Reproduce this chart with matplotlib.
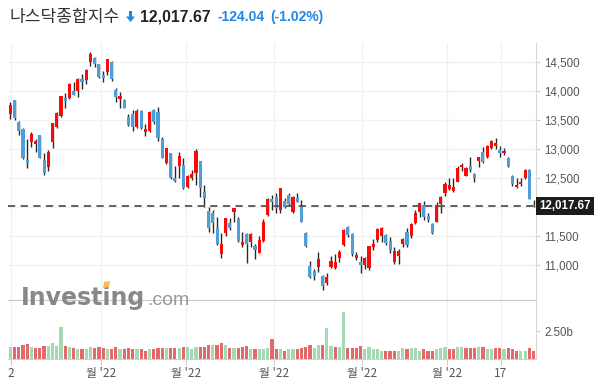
import matplotlib
matplotlib.use('Agg')
import numpy as np
import matplotlib.pyplot as plt
from matplotlib.patches import Polygon

# daily candles (index points)
opens = [13603, 13844, 13471, 13344, 12809, 13125, 13091, 13241, 12809, 12694,
         13125, 13384, 13574, 13884, 13873, 13999, 13999, 14213, 14195, 14506,
         14563, 14465, 14276, 14322, 14506, 14017, 13868, 13844, 13557, 13603,
         13384, 13655, 13299, 13310, 13672, 13638, 13172, 12753, 12931, 12506,
         12713, 12724, 12339, 12506, 12580, 12793, 12259, 11931, 11902, 11644,
         11195, 11557, 11730, 11908, 11800, 11351, 11535, 11391, 11333, 11213,
         11408, 11868, 12138, 12172, 11948, 12098, 12204, 11920, 12149, 12017,
         11557, 10988, 10897, 10971, 10817, 10695, 10971, 10943, 11126, 11345,
         11655, 11529, 11126, 11052, 11000, 10954, 11316, 11425, 11500, 11517,
         11414, 11058, 11149, 11362, 11563, 11506, 11724, 11920, 12034, 11839,
         11701, 11747, 12046, 12247, 12310, 12282, 12437, 12684, 12540, 12707,
         12575, 12799, 12947, 12868, 13011, 13057, 12983, 12925, 12845, 12534,
         12339, 12391, 12506, 12638, 12040]
highs = [13804, 13844, 13482, 13355, 13166, 13298, 13172, 13241, 12924, 12976,
         13442, 13643, 13913, 13959, 14132, 14161, 14218, 14287, 14379, 14678,
         14592, 14465, 14345, 14552, 14517, 14057, 13988, 13862, 13598, 13672,
         13690, 13667, 13431, 13655, 13684, 13730, 13213, 13023, 12931, 12707,
         12943, 12850, 12552, 12638, 12999, 12793, 12379, 12006, 11948, 11833,
         11546, 11816, 11805, 11988, 11822, 11563, 11557, 11557, 11362, 11506,
         11793, 12149, 12207, 12236, 12333, 12149, 12236, 12195, 12236, 12121,
         11575, 11069, 10931, 11230, 10828, 10856, 11155, 11190, 11253, 11621,
         11672, 11546, 11230, 11155, 11144, 11333, 11448, 11644, 11661, 11529,
         11483, 11316, 11276, 11471, 11632, 11718, 11943, 12075, 12103, 11891,
         11718, 12080, 12190, 12437, 12494, 12506, 12713, 12753, 12695, 12856,
         12591, 12868, 13034, 13069, 13155, 13184, 13057, 13011, 12856, 12552,
         12494, 12506, 12649, 12649, 12121]
lows = [13517, 13499, 13241, 12826, 12677, 13039, 12953, 12838, 12550, 12619,
        13010, 13367, 13546, 13700, 13856, 13931, 13902, 14029, 14115, 14437,
        14419, 14230, 14149, 14276, 14172, 13804, 13700, 13700, 13402, 13310,
        13367, 13345, 13230, 13287, 13437, 13144, 12838, 12736, 12483, 12437,
        12494, 12310, 12322, 12471, 12379, 12178, 11994, 11575, 11546, 11345,
        11115, 11506, 11603, 11747, 11391, 11316, 11029, 11316, 11103, 11207,
        11402, 11851, 11948, 11902, 11902, 11977, 12034, 11891, 12080, 11747,
        11316, 10770, 10741, 10885, 10569, 10655, 10954, 10931, 11046, 11333,
        11488, 11161, 11086, 10856, 10931, 10908, 11259, 11402, 11402, 11345,
        11201, 11023, 11011, 11305, 11316, 11471, 11707, 11822, 11776, 11747,
        11529, 11736, 11891, 12195, 12293, 12264, 12425, 12619, 12534, 12609,
        12437, 12695, 12765, 12839, 12999, 12999, 12868, 12897, 12684, 12362,
        12333, 12368, 12477, 12138, 11995]
closes = [13758, 13528, 13315, 12838, 12763, 13258, 13137, 12849, 12591, 12947,
          13442, 13620, 13913, 13827, 14120, 13931, 14207, 14161, 14362, 14632,
          14460, 14236, 14230, 14546, 14207, 13902, 13913, 13712, 13414, 13379,
          13655, 13356, 13345, 13632, 13460, 13184, 12849, 13010, 12494, 12454,
          12879, 12333, 12534, 12569, 12965, 12322, 12149, 11632, 11730, 11362,
          11356, 11805, 11644, 11983, 11420, 11397, 11356, 11535, 11264, 11425,
          11741, 12138, 12080, 11988, 12322, 12000, 12057, 12172, 12092, 11747,
          11328, 10799, 10817, 11098, 10644, 10793, 11069, 11046, 11218, 11603,
          11517, 11184, 11172, 11000, 11115, 11322, 11362, 11626, 11638, 11374,
          11259, 11241, 11247, 11443, 11345, 11707, 11897, 12063, 11833, 11782,
          11557, 12034, 12172, 12391, 12374, 12351, 12678, 12724, 12667, 12638,
          12494, 12862, 12782, 13046, 13144, 13103, 12937, 12965, 12713, 12391,
          12379, 12437, 12632, 12141.71, 12017.67]
# volume in billions
volumes = [1.04, 1.04, 1.04, 1.25, 1.34, 1.04, 0.95, 0.95, 1.16, 1.16,
           1.40, 1.16, 2.83, 1.16, 1.04, 0.95, 0.86, 0.86, 0.86, 1.04,
           0.95, 1.04, 0.95, 0.86, 0.86, 1.04, 0.86, 0.86, 0.95, 0.86,
           0.86, 0.86, 0.74, 0.86, 0.86, 0.95, 0.95, 0.95, 0.95, 0.95,
           0.95, 1.04, 1.04, 0.86, 1.04, 1.04, 1.04, 1.25, 1.25, 1.25,
           1.40, 1.25, 0.95, 0.95, 0.95, 1.04, 1.16, 0.86, 0.86, 0.86,
           0.86, 0.95, 1.76, 0.86, 0.86, 0.74, 0.86, 0.86, 0.86,
           0.95, 1.04, 1.25, 0.95, 1.25, 1.25, 2.74, 1.16, 1.04, 1.04,
           4.23, 0.95, 0.95, 0.95, 1.16, 0.86, 1.04, 0.86, 0.86, 0.74,
           0.74, 0.74, 0.74, 0.74, 0.95, 0.86, 0.95, 0.95, 0.74, 0.86,
           0.74, 0.74, 0.86, 0.95, 1.04, 0.86, 0.86, 1.04, 1.04, 0.95,
           0.95, 0.95, 1.04, 1.04, 0.86, 0.86, 0.95, 0.95, 0.86, 0.95,
           0.86, 0.74, 0.74, 0.74, 0.95, 0.74]

month_pos = [0.1, 21.4, 41.6, 62.6, 83.4, 103.6, 116.2]
month_labels = ["2", "월 '22", "월 '22", "월 '22", "월 '22", "월 '22", "17"]
price_ticks = [11000, 11500, 12000, 12500, 13000, 13500, 14000, 14500]

last_price = closes[-1]
title_name = '나스닥종합지수'
title_price = '12,017.67'
title_chg = '-124.04'
title_pct = '(-1.02%)'

W, H = 602, 386


def fx(px):
    return px / W


def fy(py):
    return 1 - py / H


fig = plt.figure(figsize=(W / 100, H / 100), dpi=100)
ax = fig.add_axes([fx(8), fy(300), fx(536) - fx(8), fy(43) - fy(300)])
axv = fig.add_axes([fx(8), fy(359), fx(536) - fx(8), fy(301) - fy(359)], sharex=ax)

o = np.array(opens, float)
c = np.array(closes, float)
idx = np.arange(len(c))
body_col = np.where(c >= o, '#fb0a0a', '#4d9fda')

# candles
ax.vlines(idx, lows, highs, color='#2a2a2a', lw=1, zorder=2)
ax.bar(idx, np.maximum(np.abs(c - o), 12), bottom=np.minimum(o, c), width=0.74,
       color=body_col, lw=0, zorder=3)
ax.axhline(last_price, color='#555555', lw=1.3, ls=(0, (4, 3)), zorder=4)

ax.set_xlim(-0.55, 124.58)
ax.set_ylim(10397, 14828)
ax.set_yticks(price_ticks)
# the 12,000 label sits under the last-price box
ax.set_yticklabels(['' if v == 12000 else f'{v:,}' for v in price_ticks])
ax.set_xticks(month_pos)
ax.yaxis.tick_right()
ax.grid(color='#f1f1f1', lw=1)
ax.set_axisbelow(True)
ax.tick_params(axis='y', length=3, color='#cccccc', labelsize=8.3,
               labelcolor='#555555', pad=3)
ax.tick_params(axis='x', length=0, labelbottom=False)
for t in ax.get_yticklabels():
    t.set_family('Liberation Sans')
for s in ['top', 'left']:
    ax.spines[s].set_visible(False)
ax.spines['right'].set_color('#d9d9d9')
ax.spines['bottom'].set_color('#c8c8c8')

ax.text(1.006, last_price, title_price, transform=ax.get_yaxis_transform(),
        ha='left', va='center', color='white', fontsize=8.3, fontweight='bold',
        family='Liberation Sans', zorder=10,
        bbox=dict(boxstyle='square,pad=0.3', fc='#1c1c1c', ec='none'))

# volume
prev = np.concatenate([[c[0] - 1], c[:-1]])
vol_col = np.where(c >= prev, '#a5d8b5', '#e26a6a')
axv.bar(idx, volumes, width=0.76, color=vol_col, lw=0, zorder=3)
axv.set_ylim(0, 5.18)
axv.set_yticks([2.5])
axv.set_yticklabels(['2.50b'])
axv.yaxis.tick_right()
axv.set_xticks(month_pos)
axv.set_xticklabels(month_labels)
axv.grid(axis='x', color='#f1f1f1', lw=1)
axv.set_axisbelow(True)
axv.tick_params(axis='y', length=3, color='#cccccc', labelsize=8.3,
                labelcolor='#555555', pad=3)
axv.tick_params(axis='x', length=4, color='#cccccc', labelsize=8.5,
                labelcolor='#555555', pad=2)
for t in axv.get_yticklabels():
    t.set_family('Liberation Sans')
for t in axv.get_xticklabels():
    t.set_family(['Noto Sans CJK KR', 'DejaVu Sans'])
for s in ['top', 'left']:
    axv.spines[s].set_visible(False)
axv.spines['right'].set_color('#d9d9d9')
axv.spines['bottom'].set_color('#d0d0d0')

# header
fig.text(fx(10), fy(17), title_name, family=['Noto Sans CJK KR', 'DejaVu Sans'],
         fontsize=12.3, color='#333333', va='center')
arrow = [(129, 11), (132, 11), (132, 16.5), (135, 16.5), (130.5, 22), (126, 16.5), (129, 16.5)]
fig.patches.append(Polygon([(fx(px), fy(py)) for px, py in arrow], closed=True,
                           transform=fig.transFigure, fc='#1e88e5', ec='none'))
fig.text(fx(140), fy(17), title_price, family='Liberation Sans', fontweight='bold',
         fontsize=11.3, color='#222222', va='center')
fig.text(fx(218), fy(17), title_chg, family='Liberation Sans', fontweight='bold',
         fontsize=10, color='#1e88e5', va='center')
fig.text(fx(270), fy(17), title_pct, family='Liberation Sans', fontweight='bold',
         fontsize=10, color='#1e88e5', va='center')

# watermark
fig.text(fx(21), fy(305), 'Investing', family='DejaVu Sans', fontweight='bold',
         fontsize=17, color='#888888', va='baseline', zorder=20)
fig.text(fx(147), fy(305), '.com', family='Liberation Sans', fontsize=14,
         color='#9a9a9a', va='baseline', zorder=20)
dot = [(104, 282), (110, 281), (109, 287), (103, 288)]
fig.patches.append(Polygon([(fx(px), fy(py)) for px, py in dot], closed=True,
                           transform=fig.transFigure, fc='#f7bd5a', ec='none', zorder=21))

fig.savefig('out.png', dpi=100)
